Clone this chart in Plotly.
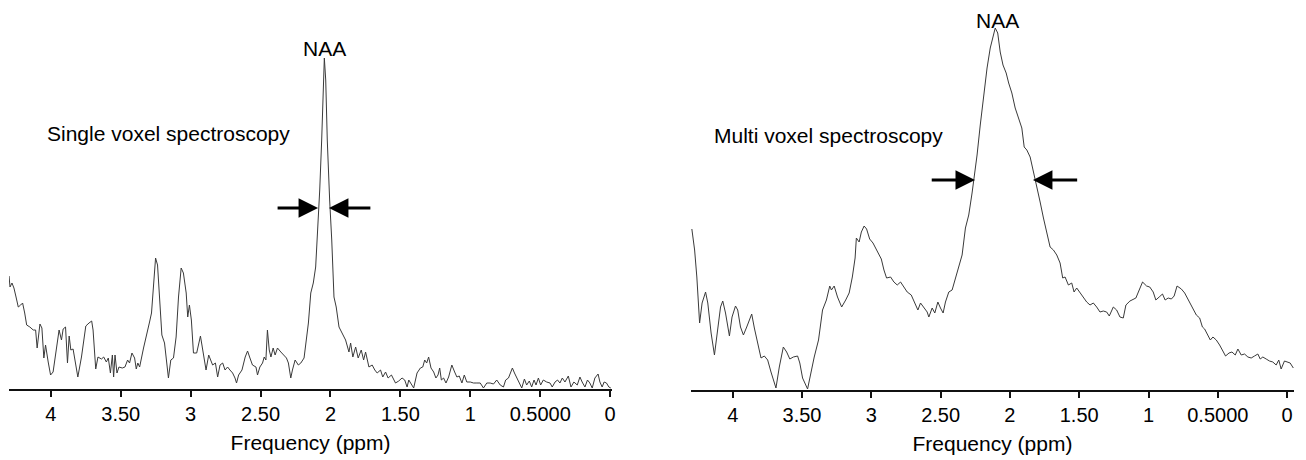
import plotly.graph_objects as go

# ---------------- data ----------------
single_ppm = [4.299, 4.292, 4.278, 4.264, 4.249, 4.233, 4.216, 4.202, 4.187, 4.173, 4.150, 4.126, 4.109, 4.098,
              4.078, 4.064, 4.050, 4.038, 4.019, 4.002, 3.984, 3.959, 3.941, 3.924, 3.912, 3.895, 3.881, 3.869,
              3.857, 3.841, 3.807, 3.781, 3.750, 3.727, 3.708, 3.698, 3.679, 3.663, 3.638, 3.622, 3.603, 3.589,
              3.574, 3.560, 3.551, 3.541, 3.527, 3.513, 3.489, 3.470, 3.451, 3.437, 3.420, 3.401, 3.389, 3.378,
              3.365, 3.337, 3.318, 3.294, 3.280, 3.266, 3.251, 3.237, 3.223, 3.206, 3.187, 3.175, 3.159, 3.142,
              3.123, 3.104, 3.087, 3.068, 3.052, 3.032, 3.021, 3.009, 2.995, 2.980, 2.957, 2.930, 2.914, 2.890,
              2.871, 2.843, 2.823, 2.807, 2.790, 2.771, 2.754, 2.736, 2.719, 2.700, 2.683, 2.672, 2.657, 2.633,
              2.610, 2.593, 2.576, 2.558, 2.533, 2.522, 2.505, 2.486, 2.474, 2.462, 2.451, 2.438, 2.426, 2.410,
              2.396, 2.379, 2.355, 2.332, 2.315, 2.301, 2.284, 2.272, 2.253, 2.230, 2.212, 2.189, 2.177, 2.158,
              2.141, 2.123, 2.106, 2.094, 2.077, 2.063, 2.053, 2.044, 2.034, 2.023, 2.006, 1.991, 1.975, 1.959,
              1.939, 1.916, 1.892, 1.868, 1.856, 1.840, 1.820, 1.802, 1.780, 1.763, 1.749, 1.725, 1.702, 1.683,
              1.666, 1.642, 1.626, 1.606, 1.588, 1.564, 1.535, 1.512, 1.488, 1.469, 1.452, 1.440, 1.421, 1.405,
              1.381, 1.357, 1.340, 1.326, 1.312, 1.298, 1.281, 1.262, 1.246, 1.231, 1.219, 1.207, 1.191, 1.174,
              1.155, 1.132, 1.112, 1.096, 1.079, 1.060, 1.043, 1.025, 1.000, 0.977, 0.953, 0.929, 0.906, 0.882,
              0.858, 0.834, 0.811, 0.786, 0.763, 0.747, 0.727, 0.713, 0.699, 0.684, 0.668, 0.651, 0.632, 0.613,
              0.597, 0.578, 0.561, 0.544, 0.530, 0.513, 0.497, 0.478, 0.454, 0.430, 0.414, 0.394, 0.376, 0.359,
              0.342, 0.323, 0.299, 0.280, 0.259, 0.235, 0.216, 0.200, 0.180, 0.162, 0.145, 0.128, 0.109, 0.086,
              0.073, 0.057, 0.043, 0.026, 0.009, -0.005]
single_amp = [113, 102, 106, 101, 92, 82, 84, 86, 76, 64, 62, 59, 59, 41,
              65, 61, 31, 44, 27, 14, 17, 39, 59, 49, 60, 62, 26, 53,
              39, 40, 12, 32, 63, 66, 68, 59, 20, 32, 30, 32, 27, 31,
              16, 34, 12, 34, 16, 22, 21, 22, 29, 26, 36, 31, 20, 26,
              22, 41, 54, 67, 76, 106, 131, 124, 96, 54, 46, 29, 11, 29,
              31, 52, 92, 121, 116, 96, 72, 84, 69, 36, 36, 53, 39, 19,
              34, 24, 26, 12, 24, 26, 19, 22, 19, 16, 11, 6, 14, 19,
              32, 38, 31, 24, 22, 14, 22, 26, 32, 29, 59, 39, 32, 41,
              34, 41, 37, 34, 31, 26, 11, 19, 29, 24, 26, 31, 46, 66,
              96, 106, 122, 149, 199, 249, 299, 331, 309, 249, 189, 149, 92, 82,
              62, 56, 49, 37, 46, 32, 42, 31, 39, 29, 37, 22, 24, 19,
              16, 19, 12, 17, 11, 14, 6, 8, 11, 9, 2, 9, 4, 1,
              16, 21, 22, 29, 26, 32, 21, 17, 11, 14, 21, 9, 11, 6,
              12, 24, 17, 12, 13, 6, 14, 7, 7, 6, 6, 6, 1, 6,
              6, 5, 9, 4, 2, 9, 11, 16, 21, 16, 11, 7, 1, 10,
              4, 8, 2, 9, 4, 11, 4, 9, 7, 6, 2, 7, 9, 6,
              11, 7, 13, 2, 7, 4, 12, 7, 2, 9, 6, 1, 11, 15,
              7, 2, 7, 6, 2, 1]

multi_ppm = [4.295, 4.275, 4.259, 4.239, 4.221, 4.196, 4.180, 4.156, 4.132, 4.108, 4.088, 4.072, 4.052, 4.024,
             4.005, 3.980, 3.964, 3.944, 3.923, 3.899, 3.863, 3.844, 3.820, 3.796, 3.772, 3.748, 3.724, 3.688,
             3.664, 3.635, 3.611, 3.588, 3.563, 3.532, 3.516, 3.496, 3.460, 3.437, 3.412, 3.381, 3.352, 3.324,
             3.300, 3.288, 3.268, 3.244, 3.214, 3.185, 3.160, 3.137, 3.117, 3.108, 3.088, 3.072, 3.052, 3.034,
             3.012, 2.988, 2.950, 2.928, 2.909, 2.890, 2.861, 2.837, 2.813, 2.789, 2.765, 2.741, 2.712, 2.688,
             2.664, 2.645, 2.621, 2.597, 2.585, 2.561, 2.542, 2.520, 2.501, 2.482, 2.465, 2.441, 2.417, 2.393,
             2.369, 2.345, 2.321, 2.297, 2.273, 2.257, 2.237, 2.214, 2.189, 2.165, 2.142, 2.122, 2.106, 2.088,
             2.070, 2.050, 2.027, 2.009, 1.986, 1.962, 1.937, 1.914, 1.897, 1.878, 1.854, 1.829, 1.806, 1.782,
             1.758, 1.734, 1.710, 1.686, 1.662, 1.638, 1.619, 1.602, 1.578, 1.554, 1.537, 1.518, 1.494, 1.470,
             1.446, 1.422, 1.398, 1.374, 1.350, 1.326, 1.302, 1.283, 1.254, 1.230, 1.206, 1.182, 1.163, 1.134,
             1.091, 1.067, 1.043, 1.014, 0.991, 0.966, 0.947, 0.923, 0.899, 0.880, 0.858, 0.835, 0.815, 0.794,
             0.763, 0.739, 0.714, 0.691, 0.674, 0.655, 0.631, 0.611, 0.595, 0.578, 0.554, 0.535, 0.511, 0.487,
             0.463, 0.444, 0.419, 0.398, 0.374, 0.355, 0.331, 0.307, 0.283, 0.259, 0.235, 0.211, 0.194, 0.175,
             0.151, 0.127, 0.103, 0.079, 0.060, 0.043, 0.019, -0.005, -0.022, -0.045]
multi_amp = [161, 140, 113, 67, 87, 98, 87, 57, 35, 60, 83, 89, 77, 54,
             73, 84, 80, 63, 55, 63, 76, 62, 47, 32, 34, 30, 18, 2,
             23, 43, 38, 31, 33, 34, 27, 12, 1, 17, 33, 50, 80, 90,
             104, 100, 104, 93, 83, 90, 97, 113, 132, 152, 148, 158, 164, 161,
             151, 147, 137, 131, 120, 112, 113, 108, 105, 108, 103, 98, 95, 88,
             80, 87, 82, 78, 73, 82, 77, 88, 82, 77, 88, 98, 100, 112,
             122, 135, 162, 175, 197, 212, 235, 265, 295, 322, 342, 355, 362, 357,
             338, 325, 317, 307, 297, 282, 272, 262, 243, 240, 233, 218, 202, 188,
             172, 158, 143, 140, 135, 127, 112, 113, 105, 107, 98, 102, 97, 92,
             88, 85, 87, 83, 78, 79, 78, 74, 83, 80, 73, 72, 85, 89,
             92, 100, 108, 104, 103, 98, 90, 93, 96, 90, 92, 91, 94, 104,
             101, 97, 90, 85, 79, 75, 72, 63, 61, 57, 50, 53, 50, 45,
             38, 34, 37, 38, 35, 41, 35, 36, 33, 32, 34, 36, 31, 33,
             31, 29, 28, 25, 30, 21, 29, 28, 27, 22]

tick_vals = [4, 3.5, 3, 2.5, 2, 1.5, 1, 0.5, 0]
tick_text = ["4", "3.50", "3", "2.50", "2", "1.50", "1", "0.5000", "0"]
panel_labels = ["Single voxel spectroscopy", "Multi voxel spectroscopy"]
peak_label = "NAA"
axis_title = "Frequency (ppm)"

# ---------------- figure ----------------
W, H = 1306, 460
FONT = "Arial, 'Liberation Sans', Helvetica, sans-serif"
line_col = "#3a3a3a"

fig = go.Figure()
fig.add_trace(go.Scatter(x=single_ppm, y=single_amp, mode="lines",
                         line=dict(color=line_col, width=1), xaxis="x", yaxis="y",
                         showlegend=False, hoverinfo="skip"))
fig.add_trace(go.Scatter(x=multi_ppm, y=multi_amp, mode="lines",
                         line=dict(color=line_col, width=1), xaxis="x2", yaxis="y2",
                         showlegend=False, hoverinfo="skip"))

xcommon = dict(tickmode="array", tickvals=tick_vals, ticktext=tick_text,
               showgrid=False, zeroline=False, showline=True, linecolor="#111111", linewidth=1.5,
               ticks="outside", ticklen=6, tickwidth=1.5, tickcolor="#111111",
               tickfont=dict(family=FONT, size=20, color="#000000"),
               title=dict(text=axis_title, font=dict(family=FONT, size=21, color="#000000"), standoff=12),
               fixedrange=True)
ycommon = dict(visible=False, showgrid=False, zeroline=False, fixedrange=True)

fig.update_layout(
    width=W, height=H,
    margin=dict(l=0, r=0, t=0, b=0),
    paper_bgcolor="white", plot_bgcolor="white",
    xaxis=dict(xcommon, domain=[9 / W, 614 / W], range=[4.2995, -0.0143], anchor="y"),
    yaxis=dict(ycommon, domain=[(H - 389) / H, 1], range=[0, 389], anchor="x"),
    xaxis2=dict(xcommon, domain=[693 / W, 1298 / W], range=[4.302, -0.050], anchor="y2"),
    yaxis2=dict(ycommon, domain=[(H - 390) / H, 1], range=[0, 390], anchor="x2"),
)

txt = dict(family=FONT, size=21, color="#000000")
annotations = [
    dict(x=3.155, y=256, xref="x", yref="y", text=panel_labels[0], showarrow=False, font=txt),
    dict(x=2.046, y=341, xref="x", yref="y", text=peak_label, showarrow=False, font=txt),
    dict(x=3.309, y=255, xref="x2", yref="y2", text=panel_labels[1], showarrow=False, font=txt),
    dict(x=2.093, y=370, xref="x2", yref="y2", text=peak_label, showarrow=False, font=txt),
]
arrow_style = dict(showarrow=True, arrowhead=2, arrowsize=1.3, arrowwidth=3, arrowcolor="#000000", text="")
# (tip_ppm, tail_ppm, height, axis)
arrows = [(2.089, 2.389, 181, "x", "y"), (2.011, 1.704, 181, "x", "y"),
          (2.252, 2.575, 210, "x2", "y2"), (1.834, 1.504, 210, "x2", "y2")]
for tip, tail, h, xa, ya in arrows:
    annotations.append(dict(arrow_style, x=tip, y=h, ax=tail, ay=h, xref=xa, yref=ya,
                            axref=xa, ayref=ya))
fig.update_layout(annotations=annotations)

fig.write_html("out.html", config={"displayModeBar": False},
               post_script="document.body.style.margin='0';")
